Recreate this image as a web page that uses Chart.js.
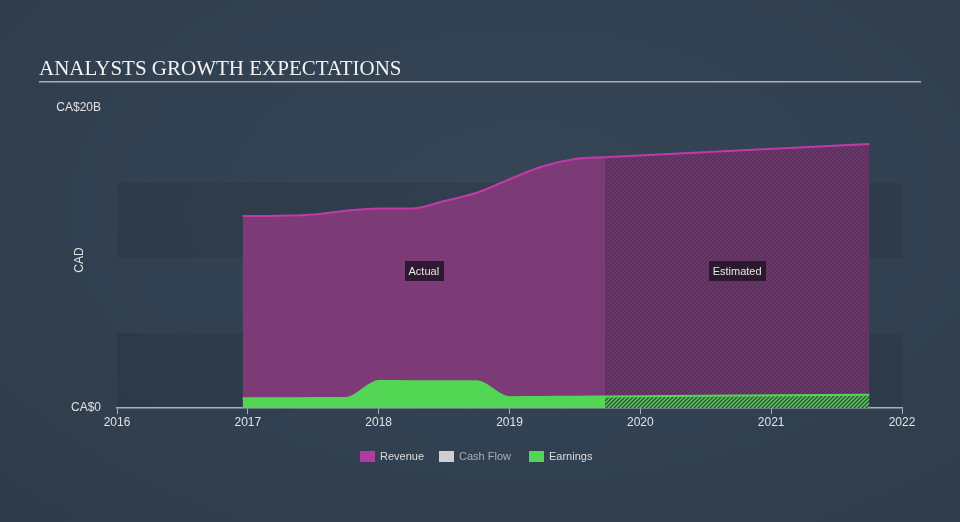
<!DOCTYPE html>
<html>
<head>
<meta charset="utf-8">
<script src="https://cdn.jsdelivr.net/npm/chart.js@4/dist/chart.umd.min.js"></script>
<style>
  html, body { margin: 0; padding: 0; }
  body { width: 960px; height: 522px; overflow: hidden;
         background: radial-gradient(ellipse at 55% 40%, #364656 0%, #324151 55%, #2e3b49 100%); }
  #wrap { position: relative; width: 960px; height: 522px; }
</style>
</head>
<body>
<div id="wrap"><canvas id="chart" width="960" height="522"></canvas></div>
<script>
// values in billions of CAD, x in fractional years
var actualYears     = [2016.96, 2017.25, 2017.5, 2017.75, 2018.0, 2018.25, 2018.5, 2018.75, 2019.0, 2019.25, 2019.5, 2019.73];
var revenueActual   = [12.8, 12.82, 12.9, 13.15, 13.3, 13.3, 13.8, 14.35, 15.25, 16.1, 16.6, 16.72];
var earningsActual  = [0.65, 0.65, 0.66, 0.66, 1.8, 1.79, 1.79, 1.78, 0.72, 0.74, 0.75, 0.77];
var estimateYears   = [2019.73, 2020.75, 2021.75];
var revenueEstimate = [16.72, 17.17, 17.6];
var earningsEstimate = [0.77, 0.83, 0.88];
var cashFlow        = [];
var yearTicks       = [2016, 2017, 2018, 2019, 2020, 2021, 2022];
var bandEdges       = [0, 5, 10, 15];
var legendItems     = ['Revenue', 'Cash Flow', 'Earnings'];
var legendColors    = ['#b23aa0', '#cfcfcf', '#52d653'];

var FONT = '"Liberation Sans", Arial, sans-serif';

function points(xs, ys) {
    var out = [];
    for (var i = 0; i < xs.length; i++) {
        out.push({x: xs[i], y: ys[i]});
    }
    return out;
}

// diagonal hatch used for the estimated areas
function hatch(base, stripe, lw) {
    var c = document.createElement('canvas');
    c.width = 4; c.height = 4;
    var g = c.getContext('2d');
    g.fillStyle = base;
    g.fillRect(0, 0, 4, 4);
    g.strokeStyle = stripe;
    g.lineWidth = lw;
    g.beginPath();
    g.moveTo(-1, 5); g.lineTo(5, -1);
    g.moveTo(-1, 1); g.lineTo(1, -1);
    g.moveTo(3, 5); g.lineTo(5, 3);
    g.stroke();
    return g.createPattern(c, 'repeat');
}

var decor = {
    id: 'decor',
    beforeDraw: function(chart) {
        var ctx = chart.ctx, a = chart.chartArea, y = chart.scales.y;
        ctx.save();
        ctx.fillStyle = 'rgba(36,46,58,0.3)';
        for (var i = 0; i < bandEdges.length; i += 2) {
            var top = y.getPixelForValue(bandEdges[i + 1]);
            var bot = y.getPixelForValue(bandEdges[i]);
            ctx.fillRect(a.left, top, a.right - a.left, bot - top);
        }
        // title
        ctx.fillStyle = '#f2f2f2';
        ctx.font = '21px "Liberation Serif", "DejaVu Serif", serif';
        ctx.textBaseline = 'alphabetic';
        ctx.fillText('ANALYSTS GROWTH EXPECTATIONS', 39, 75);
        ctx.fillStyle = '#a9b0b8';
        ctx.fillRect(39, 81, 882, 1.5);
        // axis title
        ctx.translate(80, 260);
        ctx.rotate(-Math.PI / 2);
        ctx.fillStyle = '#e2e2e2';
        ctx.font = '12px ' + FONT;
        ctx.textAlign = 'center';
        ctx.textBaseline = 'middle';
        ctx.fillText('CAD', 0, 0);
        ctx.restore();
    },
    afterDraw: function(chart) {
        var ctx = chart.ctx, x = chart.scales.x;
        ctx.save();
        ctx.font = '11px ' + FONT;
        ctx.textBaseline = 'middle';
        ctx.textAlign = 'center';
        var labelY = 271;
        var tags = [
            ['Actual', (x.getPixelForValue(actualYears[0]) + x.getPixelForValue(actualYears[actualYears.length - 1])) / 2],
            ['Estimated', (x.getPixelForValue(estimateYears[0]) + x.getPixelForValue(estimateYears[estimateYears.length - 1])) / 2]
        ];
        tags.forEach(function(t) {
            var w = ctx.measureText(t[0]).width + 8;
            ctx.fillStyle = 'rgba(38,22,40,0.9)';
            ctx.fillRect(Math.round(t[1] - w / 2), labelY - 10, Math.round(w), 20);
            ctx.fillStyle = '#e6e6e6';
            ctx.fillText(t[0], t[1], labelY + 1);
        });

        // legend
        ctx.textAlign = 'left';
        var lx = [360, 439, 529];
        for (var i = 0; i < legendItems.length; i++) {
            ctx.fillStyle = legendColors[i];
            ctx.fillRect(lx[i], 451, 15, 11);
            ctx.fillStyle = i === 1 ? '#a8adb3' : '#dcdcdc';
            ctx.fillText(legendItems[i], lx[i] + 20, 457);
        }
        ctx.restore();
    }
};

var ctx = document.getElementById('chart').getContext('2d');
var chart = new Chart(ctx, {
    type: 'line',
    data: {
        datasets: [
            {
                label: 'Earnings',
                data: points(actualYears, earningsActual),
                borderColor: '#52d653',
                backgroundColor: '#52d653',
                fill: 'origin',
                borderWidth: 2,
                pointRadius: 0,
                cubicInterpolationMode: 'monotone',
                order: 0
            },
            {
                label: 'Earnings estimate',
                data: points(estimateYears, earningsEstimate),
                borderColor: '#52d653',
                backgroundColor: hatch('#394a40', '#54cc56', 1.5),
                fill: 'origin',
                borderWidth: 2,
                pointRadius: 0,
                order: 0
            },
            {
                label: 'Cash Flow',
                data: cashFlow,
                borderColor: '#cfcfcf',
                pointRadius: 0,
                order: 1
            },
            {
                label: 'Revenue',
                data: points(actualYears, revenueActual),
                borderColor: '#c23aa8',
                backgroundColor: '#7c3a77',
                fill: 'origin',
                borderWidth: 2,
                pointRadius: 0,
                cubicInterpolationMode: 'monotone',
                order: 2
            },
            {
                label: 'Revenue estimate',
                data: points(estimateYears, revenueEstimate),
                borderColor: '#c23aa8',
                backgroundColor: hatch('#6e386d', '#4f3155', 1.2),
                fill: 'origin',
                borderWidth: 2,
                pointRadius: 0,
                order: 2
            }
        ]
    },
    options: {
        responsive: false,
        animation: false,
        layout: { padding: { left: 0, right: 58, top: 108, bottom: 84 } },
        plugins: { legend: { display: false }, tooltip: { enabled: false } },
        scales: {
            x: {
                type: 'linear',
                min: 2016,
                max: 2022,
                afterBuildTicks: function(axis) {
                    axis.ticks = yearTicks.map(function(v) { return {value: v}; });
                },
                afterFit: function(axis) { axis.height = 30; },
                grid: { display: true, drawOnChartArea: false, drawTicks: true, tickLength: 6, color: '#a9b0b8' },
                border: { display: true, color: '#a9b0b8', width: 1.5 },
                ticks: { color: '#e2e2e2', font: { family: FONT, size: 12 }, padding: 1,
                         maxRotation: 0, callback: function(v) { return String(v); } }
            },
            y: {
                min: 0,
                max: 20,
                afterBuildTicks: function(axis) {
                    axis.ticks = [{value: 0}, {value: 20}];
                },
                afterFit: function(axis) { axis.width = 117; },
                grid: { display: false },
                border: { display: false },
                ticks: { color: '#e2e2e2', font: { family: FONT, size: 12 }, padding: 8,
                         callback: function(v) { return v === 0 ? 'CA$0' : 'CA$' + v + 'B'; } }
            }
        }
    },
    plugins: [decor]
});
</script>
</body>
</html>
